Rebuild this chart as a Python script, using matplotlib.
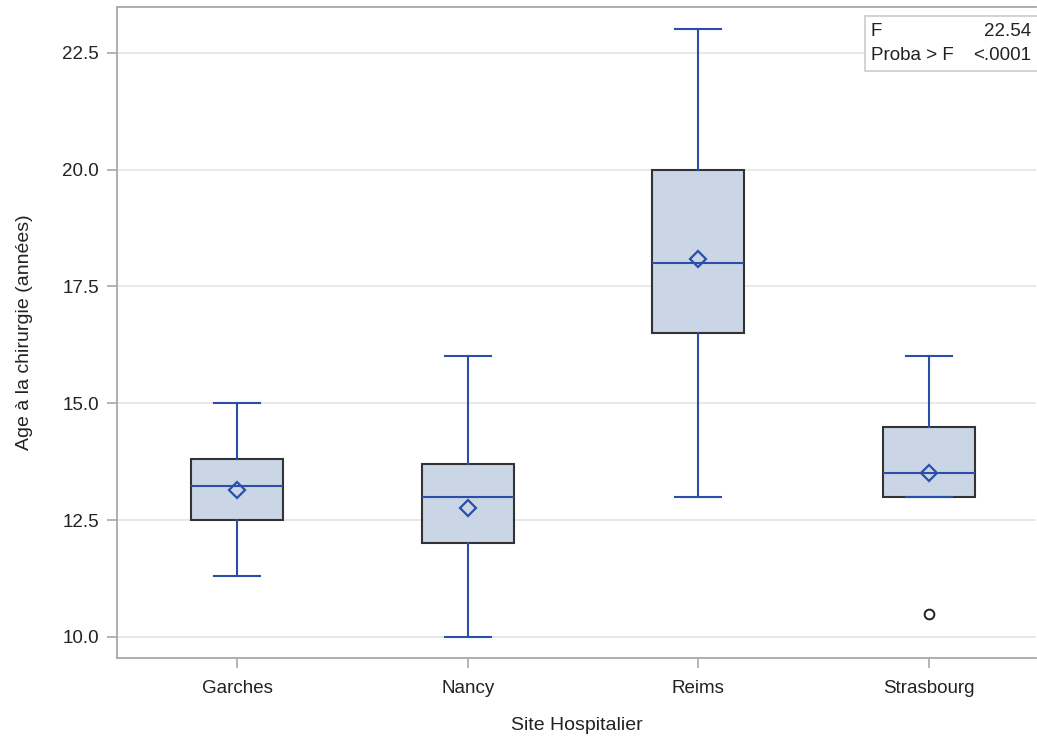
import matplotlib.pyplot as plt
from matplotlib.patches import Rectangle

# ---------------------------
# Data
# ---------------------------
sites = ['Garches', 'Nancy', 'Reims', 'Strasbourg']
q1 = [12.5, 12.0, 16.5, 13.0]
medians = [13.22, 13.0, 18.0, 13.5]
q3 = [13.8, 13.7, 20.0, 14.5]
whisk_lo = [11.3, 10.0, 13.0, 13.0]
whisk_hi = [15.0, 16.0, 23.0, 16.0]
means = [13.15, 12.75, 18.08, 13.5]
outliers = [[], [], [], [10.5]]

f_value = '22.54'
p_value = '<.0001'

# ---------------------------
# Styles
# ---------------------------
plt.rcParams['font.family'] = ['Liberation Sans', 'DejaVu Sans']
blue = '#2B4FA8'
fill = '#CAD5E5'
edge = '#333333'
spine_col = '#A5A9AD'
grid_col = '#E4E4E4'

W, H = 1037, 740
fig = plt.figure(figsize=(W / 100, H / 100), dpi=100)
ax = fig.add_axes([117 / W, 1 - 658 / H, (1036 - 117) / W, (658 - 7.3) / H])

stats = []
for i, name in enumerate(sites):
    stats.append(dict(label=name, q1=q1[i], med=medians[i], q3=q3[i],
                      whislo=whisk_lo[i], whishi=whisk_hi[i],
                      mean=means[i], fliers=outliers[i]))

pos = list(range(len(sites)))
ax.bxp(stats, positions=pos, widths=0.4, patch_artist=True,
       showmeans=True, showfliers=True,
       boxprops=dict(facecolor=fill, edgecolor=edge, linewidth=1.5),
       whiskerprops=dict(color=blue, linewidth=1.5),
       capprops=dict(color=blue, linewidth=1.5, zorder=4),
       capwidths=0.2,
       medianprops=dict(color=blue, linewidth=1.5, zorder=4),
       meanprops=dict(marker='D', markerfacecolor='none', markeredgecolor=blue,
                      markeredgewidth=1.6, markersize=8.5, zorder=5),
       flierprops=dict(marker='o', markerfacecolor='none', markeredgecolor='#222222',
                       markeredgewidth=1.4, markersize=7))

x_right = 3 + (1036 - 929) / 230.7
ax.set_xlim(-0.52, x_right)
ax.set_ylim(9.55, 23.47)
ax.set_yticks([10.0, 12.5, 15.0, 17.5, 20.0, 22.5])
ax.set_yticklabels(['10.0', '12.5', '15.0', '17.5', '20.0', '22.5'])
ax.set_xticks(pos)
ax.set_xticklabels(sites)

ax.yaxis.grid(True, color=grid_col, linewidth=1.2)
ax.set_axisbelow(True)

for s in ['left', 'bottom', 'top']:
    ax.spines[s].set_color(spine_col)
    ax.spines[s].set_linewidth(1.3)
ax.spines['right'].set_visible(False)

ax.tick_params(axis='both', direction='out', length=7, width=1.2, color=spine_col,
               labelsize=13.5, labelcolor='#222222', pad=6)
ax.tick_params(axis='x', pad=9)

ax.set_xlabel('Site Hospitalier', fontsize=14, color='#222222', labelpad=14)
ax.set_ylabel('Age à la chirurgie (années)', fontsize=14, color='#222222', labelpad=21)

# inset statistics box
fig.patches.append(Rectangle((865 / W, 1 - 71 / H), (1040 - 865) / W, (71 - 16) / H,
                             transform=fig.transFigure, facecolor='white',
                             edgecolor='#D0D0D0', linewidth=1.3, zorder=5))
fig.text(871 / W, 1 - 31 / H, 'F', fontsize=13.5, va='center', ha='left', color='#222222', zorder=6)
fig.text(1031 / W, 1 - 31 / H, f_value, fontsize=13.5, va='center', ha='right', color='#222222', zorder=6)
fig.text(871 / W, 1 - 56 / H, 'Proba > F', fontsize=13.5, va='center', ha='left', color='#222222', zorder=6)
fig.text(1031 / W, 1 - 56 / H, p_value, fontsize=13.5, va='center', ha='right', color='#222222', zorder=6)

fig.savefig('out.png', dpi=100)
